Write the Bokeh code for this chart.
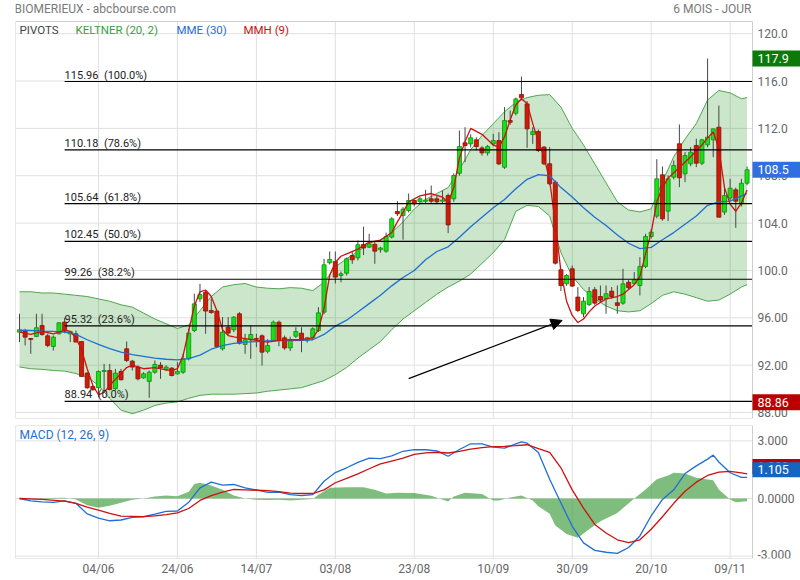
from bokeh.plotting import figure
from bokeh.layouts import column
from bokeh.models import ColumnDataSource, FixedTicker, Range1d, Arrow, NormalHead
from bokeh.embed import file_html
from bokeh.resources import INLINE
from bokeh.core.properties import value

# ---------------- DATA ----------------
opens = [94.79,94.88,94.25,94.43,95.35,94.48,93.58,94.65,95.64,94.65,
         94.65,94.00,91.33,90.20,90.09,91.47,91.55,90.01,91.47,93.38,
         92.34,91.84,90.93,90.63,91.41,92.00,91.64,91.75,91.27,91.41,
         92.54,94.93,97.61,98.17,96.62,96.57,93.38,95.21,94.99,96.34,
         93.75,94.14,94.25,94.48,93.18,94.08,95.63,94.31,93.46,94.45,
         94.70,94.08,94.31,94.93,96.48,100.65,100.76,99.58,99.77,101.26,
         101.07,102.20,101.97,102.20,101.75,101.63,102.82,104.98,104.64,105.06,
         105.91,105.82,105.85,106.05,106.05,105.85,106.33,106.05,108.21,110.78,
         110.69,111.03,110.35,109.93,110.69,110.97,108.72,112.66,113.28,114.86,
         114.07,111.48,111.73,110.42,109.01,107.46,100.06,98.88,100.14,97.75,
         96.34,97.13,98.37,97.80,97.61,98.25,97.27,97.24,99.00,98.90,
         98.73,100.34,102.87,104.59,108.08,105.01,107.88,110.70,108.16,109.01,
         110.56,109.06,110.61,111.03,112.10,104.93,106.11,106.81,105.63,107.37]
highs = [96.34,95.07,94.30,96.34,96.34,94.65,94.51,95.64,96.00,94.88,
         94.93,94.00,91.41,90.29,91.55,92.11,92.11,91.69,91.69,94.00,
         92.45,91.98,91.41,91.55,92.40,92.26,92.00,91.84,92.26,92.96,
         95.07,98.03,98.87,98.31,97.61,96.62,96.06,96.06,96.14,96.48,
         94.65,95.35,94.65,94.60,94.20,95.77,95.77,94.50,94.40,95.20,
         95.20,94.40,95.20,96.90,100.98,101.60,101.60,99.90,101.10,101.55,
         102.53,103.70,103.10,102.40,102.00,103.20,104.50,105.85,105.35,106.50,
         106.00,106.20,106.81,107.17,106.30,106.75,106.50,108.20,111.82,112.10,
         111.50,111.25,110.50,110.60,111.54,111.68,113.79,113.51,114.60,116.38,
         114.30,112.10,111.90,110.50,110.42,107.60,100.14,99.70,100.42,98.60,
         97.75,98.60,98.60,98.73,98.73,98.60,98.73,100.14,99.20,99.86,
         101.12,103.10,103.50,109.40,108.78,108.02,109.29,112.33,109.99,110.42,
         111.12,111.12,117.90,111.96,113.93,107.00,107.74,107.00,107.74,108.78]
lows = [93.95,93.67,92.96,94.37,94.48,93.52,93.24,94.59,94.70,93.95,
        93.95,90.99,90.01,89.86,89.30,89.86,89.86,89.86,90.71,92.26,
        91.55,90.71,90.85,89.25,91.27,90.85,91.50,91.05,91.22,91.27,
        92.40,94.79,97.33,94.65,96.34,93.52,93.24,94.51,94.79,93.75,
        92.96,92.54,93.52,91.97,93.00,94.00,93.60,93.30,93.20,94.30,
        93.10,93.90,94.20,94.80,96.30,100.50,98.90,99.00,99.58,100.56,
        100.85,101.30,101.90,100.56,101.50,101.50,102.70,104.60,102.60,104.90,
        105.40,105.70,105.70,105.70,105.60,105.70,103.15,105.80,108.00,109.14,
        110.40,110.13,109.70,109.70,110.50,108.90,108.58,112.30,113.10,114.40,
        110.36,110.69,110.00,108.90,107.20,100.50,98.26,98.70,98.60,96.48,
        96.06,97.00,97.10,97.30,96.34,97.60,96.34,97.10,98.40,98.80,
        97.89,100.20,102.70,104.40,104.20,104.17,107.70,107.04,107.46,108.80,
        108.73,108.90,110.40,109.57,104.50,104.70,105.90,103.60,105.40,107.20]
closes = [94.99,94.37,94.18,95.16,94.59,93.67,94.37,95.58,94.88,94.85,
          93.95,91.05,90.09,89.92,91.47,91.55,89.95,91.33,90.77,92.40,
          91.84,90.85,91.27,91.41,92.06,91.78,91.84,91.13,91.47,92.54,
          94.71,97.18,97.97,96.57,96.45,93.58,94.79,94.71,96.06,93.86,
          94.14,94.59,94.19,93.10,93.66,95.63,94.08,93.46,94.14,94.84,
          94.08,94.31,95.07,96.42,100.48,100.93,99.44,99.72,100.98,100.90,
          102.17,101.90,102.25,101.63,101.90,102.87,104.36,104.79,105.18,105.91,
          105.63,106.05,105.95,105.85,105.80,105.95,103.85,108.02,110.47,110.55,
          111.20,110.47,109.93,110.47,110.97,109.00,112.66,112.52,114.49,114.58,
          111.96,111.73,110.13,109.01,107.32,100.62,98.73,99.58,98.68,96.62,
          97.41,98.23,97.24,97.50,98.03,97.80,97.05,98.87,98.54,99.20,
          100.34,102.87,103.24,107.74,104.36,107.74,108.87,107.83,109.71,109.99,
          109.06,111.03,111.26,111.96,104.50,106.33,106.95,105.85,107.37,108.50]

band_idx = [0,2,4,6,8,10,12,14,16,18,20,22,24,26,28,30,32,34,36,38,40,42,44,46,48,50,
            52,54,56,58,60,62,64,66,68,70,72,74,76,78,80,82,84,86,88,90,92,94,96,98,100,
            102,104,106,108,110,112,114,116,118,120,122,124,126,128,129]
keltner_upper = [98.2,98.2,98.1,98.1,98.0,97.9,97.8,97.6,97.4,97.1,96.9,96.4,95.9,95.5,95.1,95.4,
                 96.6,97.8,98.6,98.8,98.9,98.6,98.5,98.45,98.55,98.5,98.3,99.0,100.3,101.0,101.6,
                 102.3,102.6,103.2,104.1,105.2,106.0,106.5,107.0,108.5,110.2,111.4,112.4,113.4,
                 114.2,114.6,114.8,114.85,113.8,112.0,110.6,109.0,107.4,105.8,105.1,104.95,105.2,
                 107.5,109.6,111.1,112.4,114.4,115.2,115.0,114.5,114.6]
keltner_lower = [91.85,91.7,91.65,91.55,91.5,91.3,91.0,90.3,89.2,88.2,87.9,88.2,88.6,88.8,88.9,89.2,
                 89.45,89.55,89.55,89.55,89.6,89.65,89.8,89.9,90.0,90.1,90.4,90.7,91.2,91.8,92.6,
                 93.3,94.0,95.0,95.9,96.6,97.3,98.0,98.6,99.1,99.7,100.6,101.5,102.6,105.0,105.5,
                 105.4,104.6,101.5,99.5,98.4,97.6,97.0,96.6,96.5,96.6,97.2,97.9,98.2,98.0,97.7,
                 97.4,97.5,98.0,98.6,98.8]
mme30 = [94.95,94.93,94.88,94.85,94.8,94.6,94.15,93.75,93.4,93.1,92.9,92.75,92.6,92.5,92.45,92.55,
         92.85,93.35,93.65,93.85,93.95,94.0,94.05,94.08,94.08,94.1,94.15,94.6,95.3,95.8,96.5,
         97.2,97.9,98.7,99.4,100.0,100.9,101.6,102.0,102.8,103.7,104.5,105.3,106.0,106.9,107.7,
         108.1,108.0,107.0,106.2,105.3,104.5,103.8,103.0,102.3,101.85,101.95,102.6,103.2,103.9,
         104.6,105.5,105.8,105.85,106.3,106.5]

mmh_idx = [0,1,2,4,6,7,8,9,10,11,12,13,14,15,16,17,18,19,20,22,24,26,27,28,29,30,31,32,33,34,35,
           36,37,38,40,42,44,46,48,50,52,53,54,55,56,57,58,60,62,64,66,67,68,69,71,73,75,76,77,78,
           79,80,82,84,85,86,87,88,89,90,91,92,93,94,95,96,97,98,99,100,101,102,104,106,107,109,
           110,111,112,113,114,115,117,119,121,122,123,124,125,126,127,128,129]
mmh9 = [94.8,94.7,94.6,94.85,94.65,94.8,94.95,94.85,94.3,93.3,91.7,90.3,89.5,89.7,90.3,90.8,91.3,
        91.8,92.0,91.7,91.8,91.6,91.55,91.7,92.8,94.9,97.0,98.2,98.35,97.8,96.6,95.0,94.5,94.4,
        94.25,94.1,93.95,94.1,94.15,94.15,94.3,95.0,96.8,99.6,100.7,101.2,101.4,101.8,102.4,102.55,
        103.2,104.1,104.9,105.8,106.3,106.5,106.2,105.7,107.0,109.5,110.9,112.0,111.5,110.6,110.4,
        111.3,112.7,114.0,114.5,114.1,112.4,110.9,109.6,107.6,104.0,99.9,97.4,96.2,95.6,95.9,96.5,
        97.0,97.6,97.8,98.0,98.8,99.5,101.4,103.2,105.8,107.0,107.8,108.7,109.6,110.6,111.2,111.7,
        110.3,107.0,105.6,105.0,105.7,106.8]

macd_idx = [0,2,4,6,8,10,12,14,16,18,20,22,24,26,28,30,32,34,36,38,40,42,44,46,48,50,52,54,56,58,
            60,62,64,66,68,70,72,74,76,78,80,82,84,86,88,89,90,92,94,96,98,100,102,104,106,108,110,
            112,114,116,118,120,122,123,124,126,128,129]
macd_line = [0.0,-0.12,-0.18,-0.2,-0.12,-0.25,-0.8,-1.02,-1.16,-1.12,-0.98,-0.95,-0.82,-0.67,-0.65,
             -0.2,0.55,0.85,0.7,0.73,0.55,0.45,0.32,0.33,0.2,0.15,0.2,0.9,1.35,1.6,1.88,2.1,2.08,
             2.22,2.46,2.55,2.54,2.48,2.2,2.55,2.85,2.85,2.68,2.62,2.85,2.95,2.88,2.4,1.0,-0.23,
             -1.45,-2.31,-2.7,-2.8,-2.86,-2.55,-1.95,-0.9,-0.05,0.45,1.3,1.7,2.05,2.26,1.9,1.34,1.1,1.105]
signal_idx = [0,4,8,10,12,14,16,18,20,22,24,26,28,30,32,34,36,38,40,42,44,46,48,50,52,54,56,58,60,
              62,64,66,68,70,72,74,76,78,80,82,84,86,88,90,92,94,96,98,100,102,104,106,108,110,112,
              114,116,118,120,122,124,126,128,129]
signal_line = [0.0,-0.05,-0.14,-0.25,-0.45,-0.6,-0.78,-0.92,-0.93,-0.94,-0.9,-0.84,-0.75,-0.52,-0.1,
               0.15,0.33,0.47,0.45,0.43,0.41,0.36,0.28,0.26,0.26,0.45,0.82,1.05,1.28,1.55,1.8,1.95,
               2.1,2.3,2.38,2.41,2.37,2.45,2.57,2.65,2.7,2.72,2.75,2.8,2.6,2.4,1.6,0.45,-0.5,-1.35,
               -1.8,-2.15,-2.3,-2.15,-1.6,-0.95,-0.25,0.38,0.85,1.2,1.37,1.41,1.33,1.28]
hist_idx = [0,4,8,10,12,14,16,18,20,22,24,26,28,30,31,32,34,36,38,40,42,44,46,48,50,52,53,55,58,61,
            63,65,67,70,73,76,77,79,82,84,85,87,89,91,92,94,95,97,99,101,103,106,109,111,113,115,
            116,118,120,123,124,126,127,129]
hist_vals = [0.0,0.02,0.04,-0.05,-0.35,-0.48,-0.38,-0.22,-0.06,0.0,0.1,0.16,0.12,0.35,0.75,0.82,
             0.68,0.45,0.15,0.0,-0.07,-0.08,-0.06,-0.1,-0.07,-0.03,0.2,0.56,0.58,0.58,0.45,0.26,
             0.3,0.28,0.14,-0.15,0.1,0.3,0.24,-0.1,-0.1,0.05,0.16,-0.1,-0.4,-0.8,-1.4,-1.85,-2.05,
             -1.6,-1.18,-0.75,0.0,0.47,1.0,1.2,1.34,1.3,1.08,0.95,0.47,-0.05,-0.19,-0.14]

date_tick_idx = [14, 28, 42, 56, 70, 84, 98, 112, 126]
date_tick_labels = ["04/06", "24/06", "14/07", "03/08", "23/08", "10/09", "30/09", "20/10", "09/11"]

fib_levels = [115.96, 110.18, 105.64, 102.45, 99.26, 95.32, 88.94]
fib_pcts = ["100.0%", "78.6%", "61.8%", "50.0%", "38.2%", "23.6%", "0.0%"]
fib_start_idx = 8

price_ticks = [88, 92, 96, 100, 104, 108, 112, 116, 120]
price_tick_labels = ["88.00", "92.00", "96.00", "100.0", "104.0", "108.0", "112.0", "116.0", "120.0"]
macd_ticks = [0, 3]
macd_tick_labels = ["0.0000", "3.000"]
macd_low_tick = -3
macd_low_label = "-3.000"

period_high = 117.9
last_close = 108.5
period_low = 88.86
macd_last = 1.105
signal_last = 1.28

arrow_start = (69.0, 90.87)
arrow_end = (96.2, 95.78)

# ---------------- LAYOUT (page pixels -> data) ----------------
FONT = "Roboto"
PX_PER_BAR = 5.64
BAR0_PX = 19.0
IL, IR = 15, 752            # inner plot area, left / right (page px)
CANVAS_R = 800
MT_IN, MB_IN = 21, 418      # main inner area top / bottom
PX_PER_PRICE = 11.84
REF_PRICE, REF_PX = 115.96, 81.0
QT, QB = 425, 558           # macd frame top / bottom
PX_PER_MACD = 19.2
MACD_ZERO_PX = 498.0


def ix(px):
    return (px - BAR0_PX) / PX_PER_BAR


def py(pv):
    return REF_PRICE - (pv - REF_PX) / PX_PER_PRICE


def my(pv):
    return (MACD_ZERO_PX - pv) / PX_PER_MACD


X0, X1, XR = ix(IL), ix(IR), ix(CANVAS_R)
Y0, Y1, YT = py(MB_IN), py(MT_IN), py(0)
M0, M1 = my(QB), my(QT)

GRID = "#e0e0e0"
BORDER = "#cfcfcf"
AXIS_TXT = "#666666"

# ---------------- main price panel ----------------
p = figure(frame_width=CANVAS_R - IL, frame_height=MB_IN,
           x_range=Range1d(X0, XR), y_range=Range1d(Y0, YT),
           x_axis_location=None, y_axis_location=None,
           output_backend="svg", toolbar_location=None,
           min_border_left=IL, min_border_right=0, min_border_top=0, min_border_bottom=2,
           outline_line_color=None, background_fill_color="white", border_fill_color="white")
p.grid.grid_line_color = None

p.segment(x0=date_tick_idx, y0=[Y0] * len(date_tick_idx), x1=date_tick_idx,
          y1=[Y1] * len(date_tick_idx), line_color=GRID, line_width=1)
p.segment(x0=[X0] * len(price_ticks), y0=price_ticks, x1=[X1] * len(price_ticks),
          y1=price_ticks, line_color=GRID, line_width=1)

# Keltner band
p.varea(x=band_idx, y1=keltner_lower, y2=keltner_upper, fill_color="green", fill_alpha=0.2)
p.line(band_idx, keltner_upper, line_color="#4ea64e", line_width=1)
p.line(band_idx, keltner_lower, line_color="#4ea64e", line_width=1)

# candles
idx = list(range(len(opens)))
up = [c >= o for o, c in zip(opens, closes)]
src = ColumnDataSource(dict(
    x=idx,
    top=[max(o, c) for o, c in zip(opens, closes)],
    bottom=[min(o, c) for o, c in zip(opens, closes)],
    high=highs, low=lows,
    fill=["#19e019" if u else "#d01c06" for u in up],
    line=["#0a8f0a" if u else "#861104" for u in up],
))
p.segment(x0="x", y0="high", x1="x", y1="low", source=src, line_color="#474747", line_width=1)
p.vbar(x="x", width=0.72, top="top", bottom="bottom", fill_color="fill", line_color="line",
       line_width=0.8, source=src)

# moving averages
p.line(band_idx, mme30, line_color="#1f6fd2", line_width=1.3)
p.line(mmh_idx, mmh9, line_color="#cc1111", line_width=1.3)

# Fibonacci pivots
n_f = len(fib_levels)
p.segment(x0=[fib_start_idx] * n_f, y0=fib_levels, x1=[X1] * n_f, y1=fib_levels,
          line_color="black", line_width=1.2)
p.text(x=[fib_start_idx] * n_f, y=fib_levels,
       text=[f"{lv:.2f}\u00a0\u00a0({pc})" for lv, pc in zip(fib_levels, fib_pcts)],
       text_font=value(FONT), text_font_size="11px", text_color="#222222",
       text_baseline="bottom", text_align="left")

p.add_layout(Arrow(end=NormalHead(size=11, fill_color="black", line_color="black"),
                   x_start=arrow_start[0], y_start=arrow_start[1],
                   x_end=arrow_end[0], y_end=arrow_end[1],
                   line_color="black", line_width=1.2))

p.quad(left=[X0], right=[X1], bottom=[Y0], top=[Y1], fill_color=None, line_color=BORDER,
       line_width=1)

# price scale (right side)
p.text(x=[ix(757)] * len(price_ticks), y=price_ticks, text=price_tick_labels,
       text_font=value(FONT), text_font_size="12px", text_color=AXIS_TXT,
       text_baseline="middle", text_align="left")

# header texts
p.text(x=[ix(14)], y=[py(8)], text=["BIOMERIEUX - abcbourse.com"], text_font=value(FONT),
       text_font_size="12px", text_color="#7a7a7a", text_baseline="middle", text_align="left")
p.text(x=[ix(751)], y=[py(8)], text=["6 MOIS - JOUR"], text_font=value(FONT),
       text_font_size="12px", text_color="#7a7a7a", text_baseline="middle", text_align="right")
legend_txt = ["PIVOTS", "KELTNER (20, 2)", "MME (30)", "MMH (9)"]
legend_px = [19, 75, 176, 243]
legend_col = ["#444444", "#3a9e3a", "#1f6fd2", "#c81414"]
p.text(x=[ix(v) for v in legend_px], y=[py(29)] * 4, text=legend_txt, text_color=legend_col,
       text_font=value(FONT), text_font_size="11.5px", text_baseline="middle", text_align="left")

# value boxes on the price scale
half_box = 8 / PX_PER_PRICE
box_vals = [period_high, last_close, period_low]
box_cols = ["#0b7a0b", "#2f6fe0", "#bb0000"]
box_txt = [f"{period_high:.1f}", f"{last_close:.1f}", f"{period_low:.2f}"]
p.quad(left=[X1] * 3, right=[XR] * 3, bottom=[v - half_box for v in box_vals],
       top=[v + half_box for v in box_vals], fill_color=box_cols, line_color=None)
p.text(x=[ix(757)] * 3, y=box_vals, text=box_txt, text_font=value(FONT),
       text_font_size="12.5px", text_color="white", text_baseline="middle", text_align="left")

# ---------------- MACD panel ----------------
q = figure(frame_width=CANVAS_R - IL, frame_height=QB - QT,
           x_range=p.x_range, y_range=Range1d(M0, M1), y_axis_location=None,
           output_backend="svg", toolbar_location=None,
           min_border_left=IL, min_border_right=0, min_border_top=QT - (MB_IN + 2),
           min_border_bottom=20,
           outline_line_color=None, background_fill_color="white", border_fill_color="white")
q.grid.grid_line_color = None
xa = q.xaxis[0]
xa.ticker = FixedTicker(ticks=date_tick_idx)
xa.major_label_overrides = {t: l for t, l in zip(date_tick_idx, date_tick_labels)}
xa.axis_line_color = None
xa.major_tick_line_color = None
xa.minor_tick_line_color = None
xa.major_tick_out = 0
xa.major_tick_in = 0
xa.minor_tick_out = 0
xa.minor_tick_in = 0
xa.major_label_text_font = FONT
xa.major_label_text_font_size = "12px"
xa.major_label_text_color = AXIS_TXT
xa.major_label_standoff = 3

grid_y = [macd_low_tick] + macd_ticks
q.segment(x0=date_tick_idx, y0=[M0] * len(date_tick_idx), x1=date_tick_idx,
          y1=[M1] * len(date_tick_idx), line_color=GRID, line_width=1)
q.segment(x0=[X0] * len(grid_y), y0=grid_y, x1=[X1] * len(grid_y),
          y1=grid_y, line_color=GRID, line_width=1)

q.varea(x=hist_idx, y1=0, y2=hist_vals, fill_color="#3a9a3a", fill_alpha=0.65)
q.line(macd_idx, macd_line, line_color="#1f6fd2", line_width=1.3)
q.line(signal_idx, signal_line, line_color="#cc1111", line_width=1.3)

q.quad(left=[X0], right=[X1], bottom=[M0], top=[M1], fill_color=None, line_color=BORDER,
       line_width=1)

q.text(x=[ix(757)] * len(macd_ticks), y=macd_ticks, text=macd_tick_labels,
       text_font=value(FONT), text_font_size="12px", text_color=AXIS_TXT,
       text_baseline="middle", text_align="left")
q.text(x=[ix(757)], y=[macd_low_tick + 2 / PX_PER_MACD], text=[macd_low_label],
       text_font=value(FONT), text_font_size="12px", text_color=AXIS_TXT,
       text_baseline="alphabetic", text_align="left")
q.text(x=[ix(19)], y=[my(434)], text=["MACD (12, 26, 9)"], text_font=value(FONT),
       text_font_size="12px", text_color="#1f6fd2", text_baseline="middle", text_align="left")

box_h = 15 / PX_PER_MACD
for v, col in [(signal_last, "#bb0000"), (macd_last, "#1565c0")]:
    q.quad(left=[X1], right=[XR], bottom=[v], top=[v + box_h], fill_color=col, line_color=None)
    q.text(x=[ix(757)], y=[v + box_h / 2], text=[f"{v:.3f}"], text_font=value(FONT),
           text_font_size="12.5px", text_color="white", text_baseline="middle",
           text_align="left")

layout = column(p, q, spacing=0)
open("out.html", "w").write(file_html(layout, INLINE))
